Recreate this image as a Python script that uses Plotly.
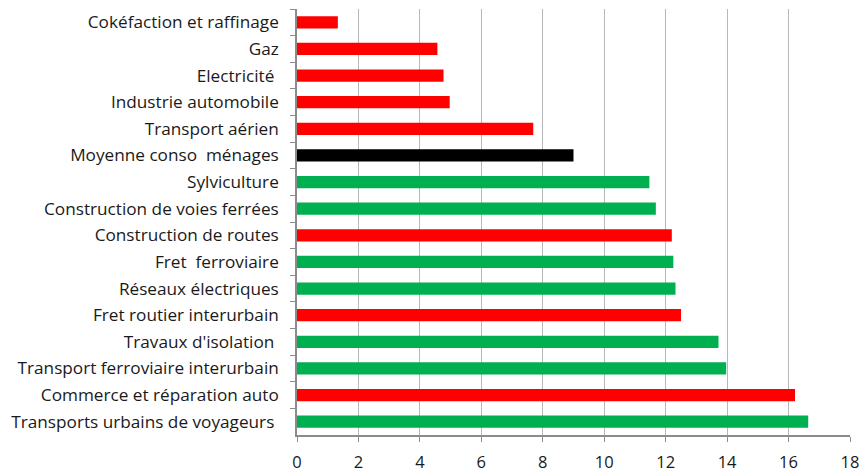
import plotly.graph_objects as go

# libellés de haut en bas
secteurs = [
    "Cokéfaction et raffinage",
    "Gaz",
    "Electricité\u00a0",
    "Industrie automobile",
    "Transport aérien",
    "Moyenne conso \u00a0ménages",
    "Sylviculture",
    "Construction de voies ferrées",
    "Construction de routes",
    "Fret \u00a0ferroviaire",
    "Réseaux électriques",
    "Fret routier interurbain",
    "Travaux d'isolation\u00a0",
    "Transport ferroviaire interurbain",
    "Commerce et réparation auto",
    "Transports urbains de voyageurs\u00a0",
]
valeurs = [1.33, 4.57, 4.77, 4.97, 7.69, 9.0, 11.47, 11.68, 12.2, 12.25,
           12.32, 12.5, 13.72, 13.97, 16.21, 16.64]
groupe = ["r", "r", "r", "r", "r", "m", "v", "v", "r", "v",
          "v", "r", "v", "v", "r", "v"]
x_ticks = [0, 2, 4, 6, 8, 10, 12, 14, 16, 18]

couleurs = {"r": "#FF0000", "v": "#00B050", "m": "#000000"}

fig = go.Figure(
    go.Bar(
        x=valeurs,
        y=secteurs,
        orientation="h",
        width=0.46,
        marker={
            "color": [couleurs[g] for g in groupe],
            "line": {"width": 0},
        },
        hoverinfo="x+y",
    )
)

fig.update_layout(
    template="none",
    width=861,
    height=472,
    margin={"t": 9, "b": 37, "l": 297, "r": 11, "pad": 0},
    paper_bgcolor="white",
    plot_bgcolor="white",
    showlegend=False,
    font={"family": "'Open Sans', sans-serif", "size": 17, "color": "#1a1a1a"},
    xaxis={
        "range": [0, 18],
        "tickvals": x_ticks,
        "automargin": False,
        "showgrid": True,
        "gridcolor": "#B8B8B8",
        "gridwidth": 1,
        "zeroline": False,
        "showline": True,
        "linecolor": "#8C8C8C",
        "linewidth": 1.5,
        "ticks": "outside",
        "ticklen": 5,
        "tickcolor": "#8C8C8C",
        "tickfont": {"size": 16.5},
        "ticklabelstandoff": 6,
    },
    yaxis={
        "autorange": "reversed",
        "automargin": False,
        "showline": True,
        "linecolor": "#8C8C8C",
        "linewidth": 1.5,
        "ticks": "outside",
        "tickson": "boundaries",
        "ticklen": 5,
        "tickcolor": "#8C8C8C",
        "showgrid": False,
        "zeroline": False,
        "ticklabelstandoff": 13,
        "tickfont": {"size": 17.2},
    },
)

# la page par défaut ajoute une marge de 8 px autour du graphique
fig.write_html(
    "out.html",
    config={"displayModeBar": False},
    post_script="document.body.style.margin='0';",
)
